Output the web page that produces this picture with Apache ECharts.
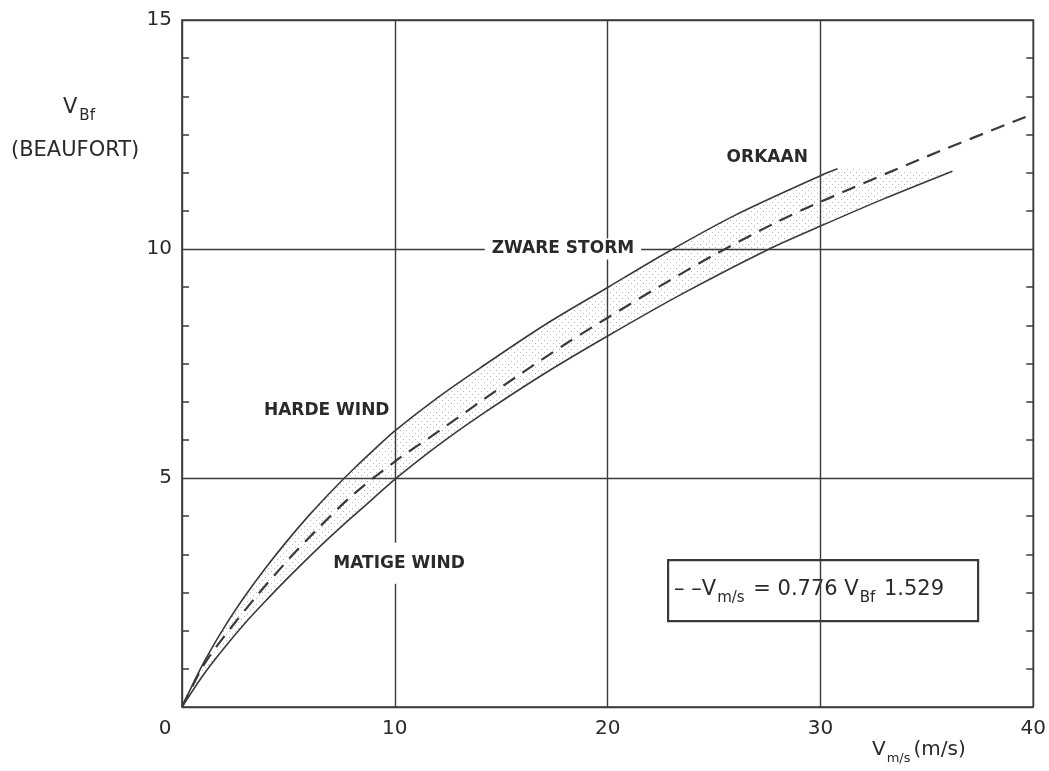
<!DOCTYPE html>
<html lang="nl">
<head>
    <meta charset="UTF-8">
    <title>Beaufort - m/s</title>
    <script src="https://cdn.jsdelivr.net/npm/echarts@6/dist/echarts.min.js"></script>
    <style>
        html, body { margin: 0; padding: 0; background: #fff; }
        #chart { width: 1049px; height: 771px; }
    </style>
</head>
<body>
<div id="chart"></div>
<script>
    // bovengrens van de band (m/s -> Beaufort)
    var upperSpeed    = [0, 1, 2, 3, 4, 5, 6, 7, 8, 9, 10, 12, 14, 17, 20, 22.8, 26, 30, 30.8];
    var upperBeaufort = [0, 0.95, 1.75, 2.45, 3.08, 3.66, 4.2, 4.7, 5.17, 5.61, 6.03, 6.75, 7.4, 8.33, 9.16, 9.93, 10.74, 11.6, 11.75];

    // ondergrens van de band
    var lowerSpeed    = [0, 1, 2, 3, 4, 5, 6, 7, 8, 9, 10, 12, 14, 17, 20, 23.5, 27.5, 30, 33, 36.2];
    var lowerBeaufort = [0, 0.7, 1.3, 1.85, 2.35, 2.83, 3.29, 3.73, 4.15, 4.56, 4.97, 5.7, 6.36, 7.27, 8.1, 9.02, 9.98, 10.5, 11.1, 11.7];

    // gestreepte lijn V = 0.776 Bf^1.529
    var fitSpeed    = [0, 1, 2, 3.5, 5, 6.5, 8, 10, 12, 14, 16, 18, 20, 22.5, 25, 28, 30, 35, 40];
    var fitBeaufort = [0, 0.9, 1.55, 2.42, 3.22, 3.95, 4.62, 5.36, 6.0, 6.66, 7.3, 7.92, 8.5, 9.2, 9.87, 10.6, 11.03, 12.02, 12.95];

    var labelNames = ['ORKAAN', 'ZWARE STORM', 'HARDE WIND', 'MATIGE WIND'];
    var labelSpeed = [27.5, 17.9, 6.8, 10.2];
    var labelBeaufort = [12.0, 10.0, 6.48, 3.14];

    function pairs(xs, ys) {
        return xs.map(function (x, i) { return [x, ys[i]]; });
    }

    // stippelpatroon voor de band
    var dots = document.createElement('canvas');
    dots.width = 6; dots.height = 6;
    var dctx = dots.getContext('2d');
    dctx.fillStyle = 'rgba(110,110,110,0.5)';
    dctx.fillRect(1, 1, 1, 1);
    dctx.fillRect(4, 4, 1, 1);

    var ink = '#3a3a3a';
    var textInk = '#2a2a2a';
    var font = "'DejaVu Sans', 'Open Sans', sans-serif";

    var myChart = echarts.init(document.getElementById('chart'));

    var option = {
        animation: false,
        backgroundColor: '#fff',
        grid: {
            left: 182, right: 11, top: 20, bottom: 64,
            show: true,
            borderColor: ink,
            borderWidth: 1.6,
            backgroundColor: 'transparent'
        },
        xAxis: {
            type: 'value',
            min: 0, max: 40, interval: 10,
            axisLine: { show: false },
            axisTick: { show: false },
            splitLine: { show: true, lineStyle: { color: ink, width: 1.4 } },
            axisLabel: {
                fontFamily: font, fontSize: 20, color: textInk, margin: 12,
                formatter: function (v) { return v === 0 ? '{z|0}' : String(v); },
                rich: { z: { fontFamily: font, fontSize: 20, color: textInk, padding: [0, 34, 0, 0] } }
            }
        },
        yAxis: [{
            type: 'value',
            min: 0, max: 15, interval: 5,
            axisLine: { show: false },
            axisTick: { show: false, inside: true },
            minorTick: { show: true, splitNumber: 6, length: 7, lineStyle: { color: ink, width: 1.5 } },
            splitLine: { show: true, lineStyle: { color: ink, width: 1.4 } },
            axisLabel: {
                fontFamily: font, fontSize: 20, color: textInk, margin: 10,
                formatter: function (v) { return v === 0 ? '' : String(v); }
            }
        }, {
            type: 'value',
            position: 'right',
            min: 0, max: 15, interval: 5,
            axisLine: { show: false },
            axisTick: { show: false, inside: true },
            minorTick: { show: true, splitNumber: 6, length: 7, lineStyle: { color: ink, width: 1.5 } },
            splitLine: { show: false },
            axisLabel: { show: false }
        }],
        graphic: [
            {
                type: 'text', left: 63, top: 97,
                style: {
                    text: '{m|V}{s|Bf}',
                    rich: {
                        m: { fontFamily: font, fontSize: 21, fill: textInk },
                        s: { fontFamily: font, fontSize: 15, fill: textInk, padding: [18, 0, 0, 2] }
                    }
                }
            },
            {
                type: 'text', left: 11, top: 140,
                style: { text: '(BEAUFORT)', fontFamily: font, fontSize: 21, fill: textInk }
            },
            {
                type: 'text', left: 872, top: 740,
                style: {
                    text: '{m|V}{s|m/s}{m|(m/s)}',
                    rich: {
                        m: { fontFamily: font, fontSize: 20, fill: textInk },
                        s: { fontFamily: font, fontSize: 13, fill: textInk, padding: [18, 3, 0, 1] }
                    }
                }
            },
            {
                type: 'group', left: 667, top: 559,
                children: [
                    {
                        type: 'rect',
                        shape: { x: 0, y: 0, width: 310, height: 61 },
                        style: { fill: '#fff', stroke: ink, lineWidth: 2.2 }
                    },
                    {
                        type: 'text', x: 6, y: 13,
                        style: {
                            text: '{m|\u2013 \u2013V}{s|m/s}{m| = 0.776 V}{s|Bf}{m| 1.529}',
                            rich: {
                                m: { fontFamily: font, fontSize: 21, fill: textInk },
                                s: { fontFamily: font, fontSize: 15, fill: textInk, padding: [18, 2, 0, 1] }
                            }
                        }
                    }
                ]
            }
        ],
        series: [
            {
                type: 'custom',
                silent: true,
                z: 1,
                data: [0],
                renderItem: function (params, api) {
                    var pts = [];
                    upperSpeed.forEach(function (v, i) { pts.push(api.coord([v, upperBeaufort[i]])); });
                    for (var i = lowerSpeed.length - 1; i >= 0; i--) {
                        pts.push(api.coord([lowerSpeed[i], lowerBeaufort[i]]));
                    }
                    return {
                        type: 'polygon',
                        shape: { points: pts },
                        style: { fill: { image: dots, repeat: 'repeat' }, stroke: null }
                    };
                }
            },
            {
                type: 'line', name: 'boven', data: pairs(upperSpeed, upperBeaufort),
                smooth: 0.3, symbol: 'none', silent: true, z: 3,
                lineStyle: { color: ink, width: 1.6 }
            },
            {
                type: 'line', name: 'onder', data: pairs(lowerSpeed, lowerBeaufort),
                smooth: 0.3, symbol: 'none', silent: true, z: 3,
                lineStyle: { color: ink, width: 1.6 }
            },
            {
                type: 'line', name: 'fit', data: pairs(fitSpeed, fitBeaufort),
                smooth: 0.3, symbol: 'none', silent: true, z: 3,
                lineStyle: { color: ink, width: 2.2, type: [14, 9] }
            },
            {
                type: 'scatter', silent: true, z: 5,
                symbolSize: 1,
                itemStyle: { color: 'transparent', opacity: 1 },
                data: labelNames.map(function (n, i) {
                    return {
                        value: [labelSpeed[i], labelBeaufort[i]],
                        name: n,
                        label: {
                            show: true, position: 'inside', formatter: n, opacity: 1,
                            fontFamily: font, fontSize: 17, fontWeight: 'bold', color: textInk,
                            backgroundColor: (n === 'HARDE WIND' || n === 'ORKAAN') ? 'transparent' : '#fff',
                            padding: n === 'MATIGE WIND' ? [12, 4] : [2, 7]
                        }
                    };
                })
            }
        ]
    };

    myChart.setOption(option);
</script>
</body>
</html>
